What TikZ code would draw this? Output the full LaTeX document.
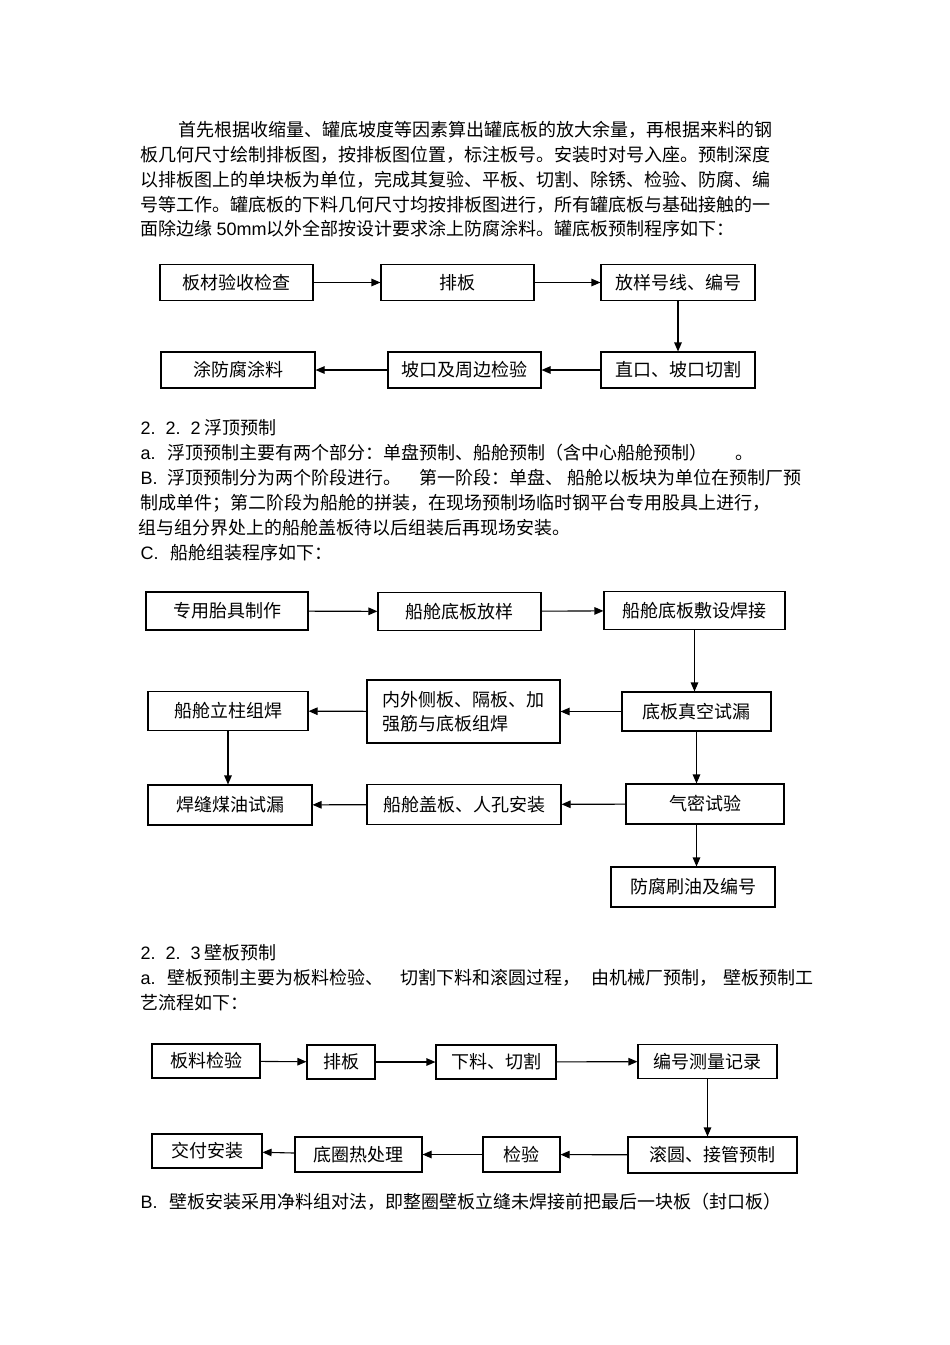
\documentclass[tikz,border=0pt]{standalone}
\usepackage{fontspec}
\setmainfont{Noto Sans CJK SC}
\newfontfamily\latin{Liberation Sans}
\usetikzlibrary{arrows.meta}

\begin{document}
\begin{tikzpicture}[x=1pt, y=-1pt,
    box/.style={draw, line width=1.1pt, minimum height=36pt, inner sep=2pt, font=\fontsize{18pt}{24pt}\selectfont},
    line/.style={anchor=west, inner sep=0pt, font=\fontsize{18pt}{25pt}\selectfont},
    >={Triangle[length=9pt, width=7.5pt]}, every path/.style={line width=1.1pt}]
    \fill[white] (0, 0) rectangle (950, 1345);
    \useasboundingbox (0, 0) rectangle (950, 1345);

    \node[line] (p1) at (178, 130) {首先根据收缩量、罐底坡度等因素算出罐底板的放大余量，再根据来料的钢};
    \node[line] (p2) at (140, 155) {板几何尺寸绘制排板图，按排板图位置，标注板号。安装时对号入座。预制深度};
    \node[line] (p3) at (140, 180) {以排板图上的单块板为单位，完成其复验、平板、切割、除锈、检验、防腐、编};
    \node[line] (p4) at (140, 205) {号等工作。罐底板的下料几何尺寸均按排板图进行，所有罐底板与基础接触的一};
    \node[line] (p5) at (140, 229) {面除边缘 {\latin 50mm}以外全部按设计要求涂上防腐涂料。罐底板预制程序如下：};

    \node[box, minimum width=153pt] (bcys) at (236.5, 282.5) {板材验收检查};
    \node[box, minimum width=153pt] (pb) at (457.5, 282.5) {排板};
    \node[box, minimum width=154pt] (fyhx) at (678, 282.5) {放样号线、编号};
    \node[box, minimum width=154pt] (zkqg) at (678, 370) {直口、坡口切割};
    \node[box, minimum width=153pt] (pkjy) at (464.5, 370) {坡口及周边检验};
    \node[box, minimum width=154pt] (tffs) at (238, 370) {涂防腐涂料};

    \draw[->] (bcys) -- (pb);
    \draw[->] (pb) -- (fyhx);
    \draw[->] (fyhx) -- (zkqg);
    \draw[->] (zkqg) -- (pkjy);
    \draw[->] (pkjy) -- (tffs);

    \node[line] (s1) at (140, 428) {{\latin 2.\hspace{10pt}2.\hspace{10pt}2} 浮顶预制};
    \node[line] (s2) at (140, 453) {{\latin a.}\hspace{12pt}浮顶预制主要有两个部分：单盘预制、船舱预制（含中心船舱预制）\hspace{28pt}。};
    \node[line] (s3) at (140, 478) {{\latin B.}\hspace{10pt}浮顶预制分为两个阶段进行。\hspace{18pt}第一阶段：单盘、\hspace{4pt}船舱以板块为单位在预制厂预};
    \node[line] (s4) at (140, 503) {制成单件；第二阶段为船舱的拼装，在现场预制场临时钢平台专用股具上进行，};
    \node[line] (s5) at (138, 528) {组与组分界处上的船舱盖板待以后组装后再现场安装。};
    \node[line] (s6) at (140, 553) {{\latin C.}\hspace{12pt}船舱组装程序如下：};

    \node[box, minimum width=162pt, minimum height=38pt] (tjzz) at (227, 611) {专用胎具制作};
    \node[box, minimum width=163pt, minimum height=38pt] (dbfy) at (459.5, 611.5) {船舱底板放样};
    \node[box, minimum width=181pt, minimum height=38pt] (dbfs) at (694.5, 610.5) {船舱底板敷设焊接};
    \node[box, minimum width=149pt, minimum height=39pt] (zksl) at (696.5, 711.5) {底板真空试漏};
    \node[box, minimum width=193pt, minimum height=63pt, align=left] (nwcb) at (463.5, 711.5) {内外侧板、隔板、加\\强筋与底板组焊};
    \node[box, minimum width=160pt, minimum height=39pt] (lzzh) at (228, 711) {船舱立柱组焊};
    \node[box, minimum width=164pt, minimum height=40pt] (myzl) at (230, 805) {焊缝煤油试漏};
    \node[box, minimum width=194pt, minimum height=40pt] (gbrk) at (464, 804.5) {船舱盖板、人孔安装};
    \node[box, minimum width=158pt, minimum height=40pt] (qmsy) at (705, 804) {气密试验};
    \node[box, minimum width=164pt, minimum height=40pt] (fssy) at (693, 887) {防腐刷油及编号};

    \draw[->] (tjzz) -- (dbfy);
    \draw[->] (dbfy) -- (dbfs);
    \draw[->] (dbfs.south) -- (dbfs.south |- zksl.north);
    \draw[->] (zksl) -- (nwcb);
    \draw[->] (nwcb) -- (lzzh);
    \draw[->] (lzzh) -- (lzzh |- myzl.north);
    \draw[->] (zksl.south) -- (zksl.south |- qmsy.north);
    \draw[->] (qmsy) -- (gbrk);
    \draw[->] (gbrk) -- (myzl);
    \draw[->] (zksl.south |- qmsy.south) -- (zksl.south |- fssy.north);

    \node[line] (t1) at (140, 953) {{\latin 2.\hspace{10pt}2.\hspace{10pt}3} 壁板预制};
    \node[line] (t2) at (140, 978) {{\latin a.}\hspace{12pt}壁板预制主要为板料检验、\hspace{17pt}切割下料和滚圆过程，\hspace{11pt}由机械厂预制，\hspace{6pt}壁板预制工};
    \node[line] (t3) at (140, 1003) {艺流程如下：};

    \node[box, minimum width=108pt, minimum height=34pt] (blj) at (206, 1061) {板料检验};
    \node[box, minimum width=68pt, minimum height=34pt] (pb3) at (341, 1062) {排板};
    \node[box, minimum width=120pt, minimum height=34pt] (xlqg) at (496, 1062) {下料、切割};
    \node[box, minimum width=139pt, minimum height=34pt] (bhcl) at (707.5, 1061.5) {编号测量记录};
    \node[box, minimum width=169pt, minimum height=36pt] (gyjg) at (712.5, 1155) {滚圆、接管预制};
    \node[box, minimum width=77pt, minimum height=35pt] (jy) at (521.5, 1154.5) {检验};
    \node[box, minimum width=127pt, minimum height=35pt] (dqrc) at (358.5, 1154.5) {底圈热处理};
    \node[box, minimum width=110pt, minimum height=34pt] (jfaz) at (207, 1151) {交付安装};

    \draw[->] (blj) -- (pb3);
    \draw[->] (pb3) -- (xlqg);
    \draw[->] (xlqg) -- (bhcl);
    \draw[->] (bhcl.south) -- (bhcl.south |- gyjg.north);
    \draw[->] (gyjg) -- (jy);
    \draw[->] (jy) -- (dqrc);
    \draw[->] (dqrc) -- (jfaz);

    \node[line] (u1) at (140, 1202) {{\latin B.}\hspace{12pt}壁板安装采用净料组对法，即整圈壁板立缝未焊接前把最后一块板（封口板）};
\end{tikzpicture}
\end{document}
